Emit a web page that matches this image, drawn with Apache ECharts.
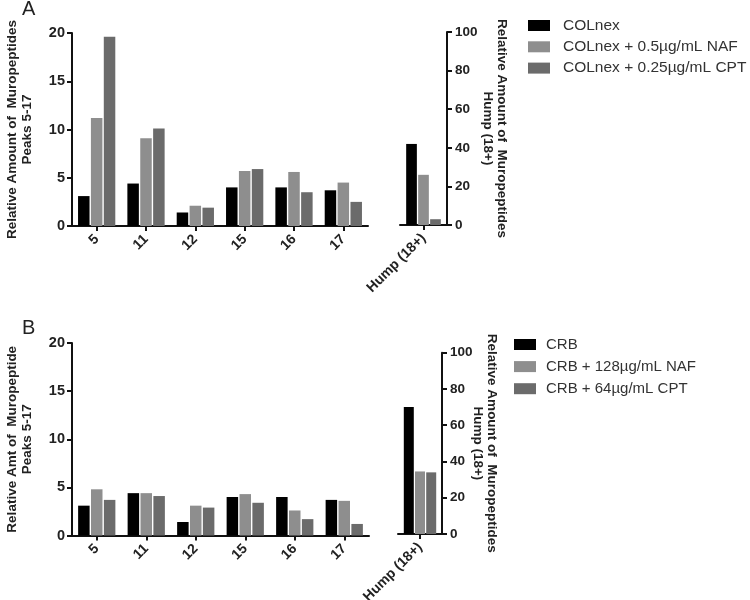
<!DOCTYPE html>
<html>
<head>
<meta charset="utf-8">
<script src="https://cdn.jsdelivr.net/npm/echarts@6/dist/echarts.min.js"></script>
<style>html,body{margin:0;padding:0;background:#fff}#c{width:750px;height:600px}</style>
</head>
<body>
<div id="c"></div>
<script>
// ---- data ----
const peaks = ['5', '11', '12', '15', '16', '17'];
const humpCat = ['Hump (18+)'];
const seriesNamesA = ['COLnex', 'COLnex + 0.5µg/mL NAF', 'COLnex + 0.25µg/mL CPT'];
const seriesNamesB = ['CRB', 'CRB + 128µg/mL NAF', 'CRB + 64µg/mL CPT'];
const aPeaksBase = [3.1, 4.4, 1.4, 4.0, 4.0, 3.7];
const aPeaksNAF  = [11.2, 9.1, 2.1, 5.7, 5.6, 4.5];
const aPeaksCPT  = [19.6, 10.1, 1.9, 5.9, 3.5, 2.5];
const aHump = [42, 26, 3];
const bPeaksBase = [3.1, 4.4, 1.4, 4.0, 4.0, 3.7];
const bPeaksNAF  = [4.8, 4.4, 3.1, 4.3, 2.6, 3.6];
const bPeaksCPT  = [3.7, 4.1, 2.9, 3.4, 1.7, 1.2];
const bHump = [70, 34.5, 34];
const leftTicks = {min: 0, max: 20, interval: 5};
const rightTicks = {min: 0, max: 100, interval: 20};

const colors = ['#000000', '#8e8e8e', '#6b6b6b'];
const FONT = 'Liberation Sans, Arial, sans-serif';

const axisLine = {show: true, lineStyle: {color: '#111', width: 2}};
const axisTick = {show: true, length: 5, lineStyle: {color: '#111', width: 2}};

function xAx(grid, data) {
  return {
    type: 'category', gridIndex: grid, data: data, boundaryGap: true,
    axisLine: axisLine, axisTick: Object.assign({alignWithLabel: true}, axisTick),
    axisLabel: {rotate: 45, fontFamily: FONT, fontWeight: 'bold', fontSize: 14, color: '#222', margin: 11, interval: 0},
    splitLine: {show: false}
  };
}
function yAxLeft(grid, name) {
  return Object.assign({
    type: 'value', gridIndex: grid, position: 'left',
    name: name, nameLocation: 'middle', nameGap: 37, nameRotate: 90,
    nameTextStyle: {fontFamily: FONT, fontWeight: 'bold', fontSize: 13.5, color: '#222', lineHeight: 15},
    axisLine: axisLine, axisTick: axisTick,
    axisLabel: {fontFamily: FONT, fontWeight: 'bold', fontSize: 14.5, color: '#222', margin: 7},
    splitLine: {show: false}
  }, leftTicks);
}
function yAxRight(grid, gap) {
  return Object.assign({
    type: 'value', gridIndex: grid, position: 'right',
    name: 'Relative Amount of  Muropeptides\nHump (18+)', nameLocation: 'middle', nameGap: gap, nameRotate: -90,
    nameMoveOverlap: false,
    nameTextStyle: {fontFamily: FONT, fontWeight: 'bold', fontSize: 13.5, color: '#222', lineHeight: 14},
    axisLine: axisLine, axisTick: axisTick,
    axisLabel: {fontFamily: FONT, fontWeight: 'bold', fontSize: 13.5, color: '#222', margin: 8},
    splitLine: {show: false}
  }, rightTicks);
}
function bars(names, arrs, xi, yi, w) {
  return arrs.map((d, i) => ({
    name: names[i], type: 'bar', xAxisIndex: xi, yAxisIndex: yi, data: d,
    barWidth: w, barGap: '12%', itemStyle: {color: colors[i]}, animation: false
  }));
}

const option = {
  animation: false,
  backgroundColor: '#fff',
  title: [
    {text: 'A', left: 22, top: -1, padding: 0, textStyle: {fontFamily: FONT, fontWeight: 'normal', fontSize: 20, color: '#222'}},
    {text: 'B', left: 22, top: 318, padding: 0, textStyle: {fontFamily: FONT, fontWeight: 'normal', fontSize: 20, color: '#222'}}
  ],
  legend: [
    {data: seriesNamesA, orient: 'vertical', left: 528, top: 17.5, padding: 0, itemWidth: 22, itemHeight: 11, itemGap: 5.3,
     icon: 'rect', textStyle: {fontFamily: FONT, fontSize: 15.5, lineHeight: 16, color: '#333', padding: [0, 0, 0, 8]}},
    {data: seriesNamesB, orient: 'vertical', left: 514, top: 336.5, padding: 0, itemWidth: 22, itemHeight: 11, itemGap: 6.1,
     icon: 'rect', textStyle: {fontFamily: FONT, fontSize: 15, lineHeight: 16, color: '#333', padding: [0, 0, 0, 5]}}
  ],
  grid: [
    {left: 72, top: 33, width: 296, height: 193, outerBoundsMode: 'none', containLabel: false},
    {left: 400, top: 32, width: 47, height: 193, outerBoundsMode: 'none', containLabel: false},
    {left: 72, top: 343, width: 297, height: 192.5, outerBoundsMode: 'none', containLabel: false},
    {left: 398, top: 352.7, width: 44, height: 181.3, outerBoundsMode: 'none', containLabel: false}
  ],
  xAxis: [xAx(0, peaks), xAx(1, humpCat), xAx(2, peaks), xAx(3, humpCat)],
  yAxis: [
    yAxLeft(0, 'Relative Amount of  Muropeptides\nPeaks 5-17'),
    yAxRight(1, 34),
    yAxLeft(2, 'Relative Amt of  Muropeptide\nPeaks 5-17'),
    yAxRight(3, 29)
  ],
  series: [].concat(
    bars(seriesNamesA, [aPeaksBase, aPeaksNAF, aPeaksCPT], 0, 0, 11.5),
    bars(seriesNamesA, aHump.map(v => [v]), 1, 1, 10.7),
    bars(seriesNamesB, [bPeaksBase, bPeaksNAF, bPeaksCPT], 2, 2, 11.5),
    bars(seriesNamesB, bHump.map(v => [v]), 3, 3, 10)
  )
};
const chart = echarts.init(document.getElementById('c'), null, {renderer: 'canvas'});
chart.setOption(option);
</script>
</body>
</html>
